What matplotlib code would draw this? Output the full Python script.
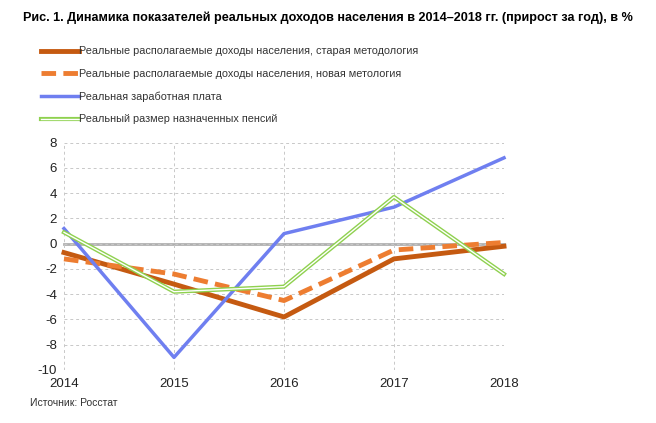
import matplotlib
matplotlib.use("Agg")
import matplotlib.pyplot as plt
from matplotlib.legend_handler import HandlerTuple

plt.rcParams['font.family'] = ['Liberation Sans', 'DejaVu Sans']
plt.rcParams['axes.unicode_minus'] = False

years = [2014, 2015, 2016, 2017, 2018]
income_old = [-0.7, -3.2, -5.8, -1.2, -0.2]
income_new = [-1.2, -2.4, -4.5, -0.5, 0.1]
wages = [1.2, -9.0, 0.8, 2.9, 6.8]
pensions = [0.9, -3.8, -3.4, 3.7, -2.4]

labels = [
    "Реальные располагаемые доходы населения, старая методология",
    "Реальные располагаемые доходы населения, новая метология",
    "Реальная заработная плата",
    "Реальный размер назначенных пенсий",
]
yticks = [-10, -8, -6, -4, -2, 0, 2, 4, 6, 8]

c_old = "#c55a11"
c_new = "#ed7d31"
c_blue = "#6f7ff0"
c_green = "#8fd14f"

fig = plt.figure(figsize=(6.56, 4.23), dpi=100)
W, H = 656, 423
ax = fig.add_axes([64 / W, 1 - 370 / H, (504 - 64) / W, (370 - 142.7) / H])

ax.set_xlim(2014, 2018)
ax.set_ylim(-10, 8)
ax.set_xticks(years)
ax.set_yticks(yticks)
ax.grid(True, color="#c8c8c8", linestyle=(0, (3, 3)), linewidth=0.7)
for s in ax.spines.values():
    s.set_visible(False)
ax.tick_params(length=0, labelsize=9.5, colors="#222222")
ax.tick_params(axis='x', pad=6)
ax.tick_params(axis='y', pad=5)
ax.axhline(0, color="#b0b0b0", lw=2, zorder=1)

l_old, = ax.plot(years, income_old, color=c_old, lw=3.5, zorder=3)
l_new, = ax.plot(years, income_new, color=c_new, lw=3.5, ls=(0, (3, 1.5)), zorder=3)
l_blue, = ax.plot(years, wages, color=c_blue, lw=2.5, zorder=4)
l_g1, = ax.plot(years, pensions, color=c_green, lw=3, zorder=5)
l_g2, = ax.plot(years, pensions, color="white", lw=1, zorder=6)
for l in ax.lines:
    l.set_clip_on(False)

fig.text(23 / W, 1 - 18 / H, "Рис. 1. Динамика показателей реальных доходов населения в 2014–2018 гг. (прирост за год), в %",
         fontsize=9.1, fontweight='bold', va='center', ha='left')

leg = fig.legend([l_old, l_new, l_blue, (l_g1, l_g2)], labels,
                 handler_map={tuple: HandlerTuple(ndivide=1, pad=0)},
                 loc='upper left', bbox_to_anchor=(41 / W, 1 - 46.5 / H),
                 frameon=False, fontsize=7.8, handlelength=3.5, handletextpad=0.05,
                 labelspacing=1.15, borderaxespad=0, borderpad=0)
for t in leg.get_texts():
    t.set_color("#333333")

fig.text(30 / W, 1 - 403 / H, "Источник: Росстат", fontsize=7.5, color="#333333", va='center', ha='left')

fig.savefig("out.png", dpi=100)
